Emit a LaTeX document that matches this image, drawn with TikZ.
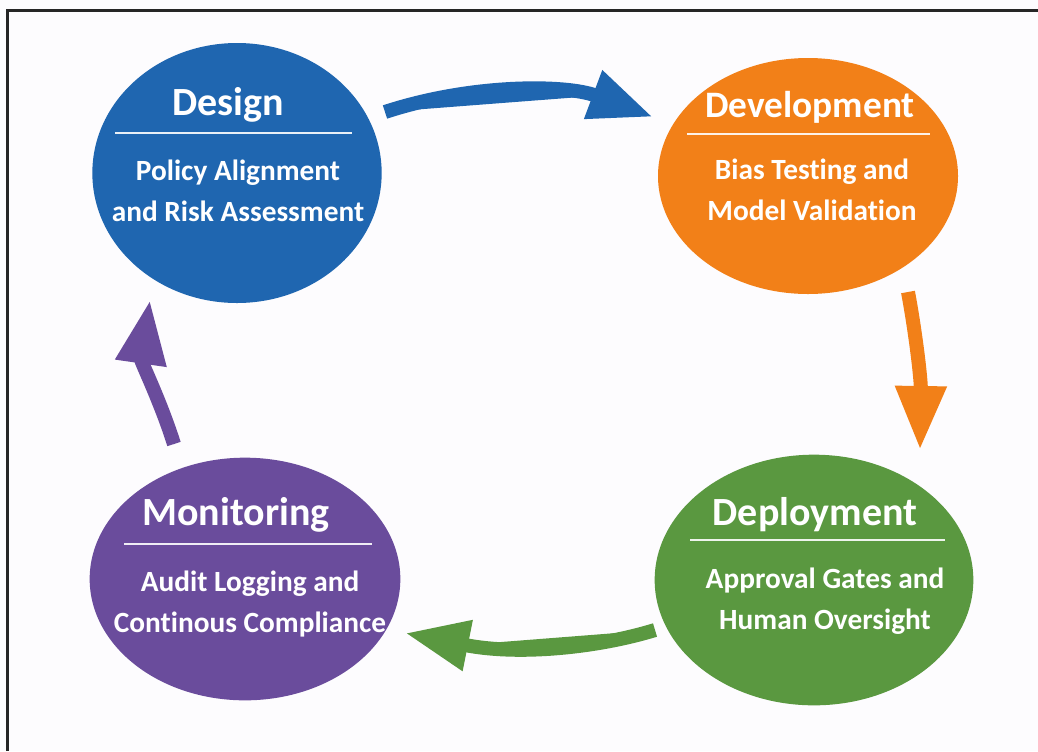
\documentclass[tikz,border=0pt]{standalone}
\usepackage{fontspec}
\setmainfont{Carlito}[Ligatures=NoCommon]
\usetikzlibrary{shapes.geometric,arrows.meta,calc}

\definecolor{pagebg}{HTML}{FDFCFE}
\definecolor{designblue}{HTML}{1F66B0}
\definecolor{devorange}{HTML}{F28018}
\definecolor{deploygreen}{HTML}{5A9840}
\definecolor{monpurple}{HTML}{6A4C9C}

\begin{document}
\begin{tikzpicture}[x=0.75pt,y=-0.75pt,
	phase/.style={ellipse,draw=none,inner sep=0pt},
	title/.style={text=white,anchor=base,font=\fontsize{30}{36}\selectfont\bfseries},
	sub/.style={text=white,anchor=base,align=center,font=\fontsize{22}{30.75}\selectfont\bfseries},
	divider/.style={draw=white,line width=1.1pt,opacity=0.9},
	cycle/.style={line width=10.5pt,-{Triangle[length=48pt,width=36pt]}}]

	\useasboundingbox (0,0) rectangle (1038,751);
	\fill[pagebg] (0,0) rectangle (1038,751);
	\draw[black!85,line width=1.9pt] (7.5,751) -- (7.5,10.5) -- (1038,10.5);

	% the four phases
	\node[phase,fill=designblue,minimum width=217pt,minimum height=195pt] (design) at (237,173) {};
	\node[phase,fill=devorange,minimum width=225pt,minimum height=177pt] (develop) at (808,176) {};
	\node[phase,fill=deploygreen,minimum width=239pt,minimum height=188pt] (deploy) at (814,580) {};
	\node[phase,fill=monpurple,minimum width=233pt,minimum height=182pt] (monitor) at (245,579) {};

	% base of a two-line label sits on its last line
	\node[title] (designtitle) at (228,115) {Design};
	\draw[divider] (115,133) -- (352,133);
	\node[sub] (designsub) at (238,221) {Policy Alignment\\and Risk Assessment};

	\node[title,font=\fontsize{28}{34}\selectfont\bfseries] (developtitle) at (810,117) {Development};
	\draw[divider] (687,134) -- (930,134);
	\node[sub] (developsub) at (812,220) {Bias Testing and\\Model Validation};

	\node[title] (deploytitle) at (815,525) {Deployment};
	\draw[divider] (690,540) -- (945,540);
	\node[sub] (deploysub) at (825,629) {Approval Gates and\\Human Oversight};

	\node[title] (monitortitle) at (236,525) {Monitoring};
	\draw[divider] (124,544) -- (372,544);
	\node[sub] (monitorsub) at (250,632) {Audit Logging and\\Continous Compliance};

	% arrows round the cycle
	\draw[cycle,draw=designblue,fill=designblue] ($(design)+(148,-61)$) .. controls (470,84) and (565,84) .. ($(develop)+(-155,-59)$);
	\draw[cycle,draw=devorange,fill=devorange] ($(develop)+(100,116)$) .. controls (916,335) and (921,380) .. ($(deploy)+(106,-130)$);
	\draw[cycle,draw=deploygreen,fill=deploygreen] ($(deploy)+(-159,50)$) .. controls (600,647) and (520,656) .. ($(monitor)+(160,54)$);
	\draw[cycle,draw=monpurple,fill=monpurple] ($(monitor)+(-71,-135)$) .. controls (160,400) and (141,362) .. ($(design)+(-87,127)$);
\end{tikzpicture}
\end{document}
